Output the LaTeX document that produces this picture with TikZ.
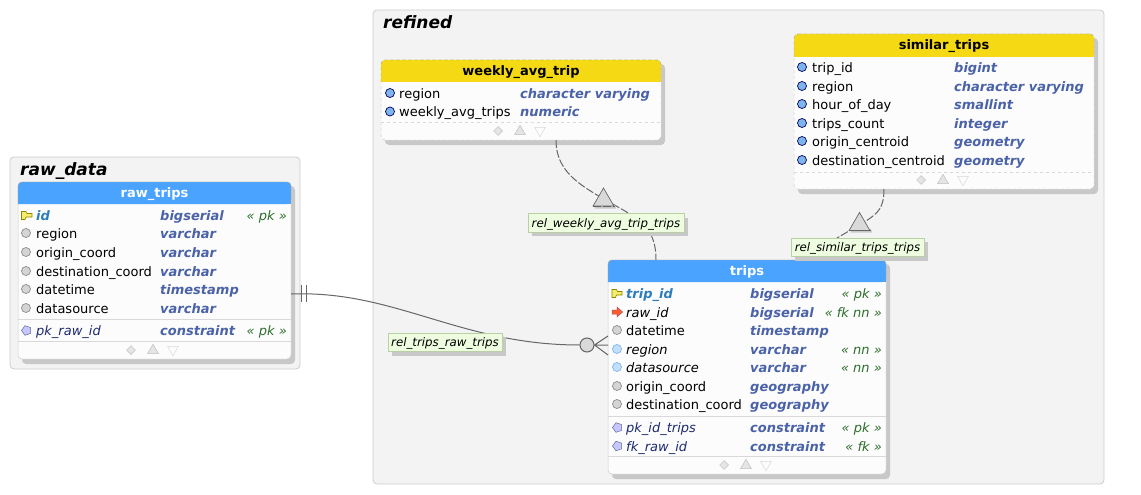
\documentclass[tikz,border=0pt]{standalone}
\usepackage{fontspec}
\setmainfont{DejaVu Sans}
\usetikzlibrary{fit,shapes.geometric}
\catcode`\_=12
\newcommand{\rowfont}{\fontsize{13}{15}\selectfont}
\definecolor{groupfill}{HTML}{F3F3F3}
\definecolor{groupline}{HTML}{CCCCCC}
\definecolor{shadowgray}{HTML}{C8C8C8}
\definecolor{tablefill}{HTML}{FCFCFC}
\definecolor{tablehead}{HTML}{4AA3FF}
\definecolor{viewhead}{HTML}{F5D914}
\definecolor{typeblue}{HTML}{4A62A8}
\definecolor{pkblue}{HTML}{2B7DBC}
\definecolor{consnavy}{HTML}{1C2B70}
\definecolor{taggreen}{HTML}{2E6E2E}
\definecolor{relfill}{HTML}{EEFCDF}
\definecolor{relline}{HTML}{B9CFA5}
\definecolor{linkgray}{HTML}{666666}
\definecolor{keyyellow}{HTML}{F4EC6A}
\definecolor{viewdot}{HTML}{7FB5EC}
\definecolor{nndot}{HTML}{C2DFFF}
\begin{document}
\begin{tikzpicture}[x=1pt,y=-1pt,
    font=\rowfont,
    group/.style={draw=groupline, fill=groupfill, rounded corners=4pt, line width=0.8pt},
    grouptitle/.style={anchor=base west, inner sep=0, font=\fontsize{17}{20}\selectfont\bfseries\itshape},
    tablebox/.style={fill=tablefill, draw=#1, rounded corners=4pt, inner sep=0, line width=0.5pt},
    title/.style={anchor=base, inner sep=0, font=\rowfont\bfseries},
    colname/.style={anchor=base west, inner sep=0},
    coltype/.style={anchor=base west, inner sep=0, text=typeblue, font=\rowfont\bfseries\itshape},
    coltag/.style={anchor=base east, inner sep=0, text=taggreen, font=\rowfont\itshape},
    dot/.style={circle, draw=#1, inner sep=0, minimum size=9pt, line width=0.7pt},
    plain/.style={dot=black!45, fill=black!17},
    viewcol/.style={dot=black!65!blue, fill=viewdot},
    nncol/.style={dot=viewdot, fill=nndot},
    cons/.style={regular polygon, regular polygon sides=5, shape border rotate=90, draw=consnavy!70, fill=blue!22,
        inner sep=0, minimum size=10pt, line width=0.5pt},
    marker/.style={inner sep=0, draw=black!25, fill=black!10, line width=0.5pt},
    updown/.style={marker, regular polygon, regular polygon sides=3, minimum size=12.5pt, shape border rotate=#1},
    reltri/.style={regular polygon, regular polygon sides=3, draw=black!60,
        fill=black!15, inner sep=0, minimum size=24pt, line width=0.7pt},
    rellabel/.style={draw=relline, fill=relfill, inner sep=0, text height=9pt, text depth=3pt, minimum height=18.5pt, anchor=center,
        font=\fontsize{11.8}{14}\selectfont\itshape, line width=0.7pt},
    relshadow/.style={fill=shadowgray},
    link/.style={draw=linkgray, line width=1pt},
    weak/.style={link, dash pattern=on 8pt off 2pt}]
\useasboundingbox (0,0) rectangle (1141,495);

% schemas
\node[group, fit={(10,157) (300,369)}, inner sep=0] (raw_data) {};
\node[grouptitle] (raw_data_title) at (20,175) {raw_data};
\node[group, fit={(373,10) (1104,484)}, inner sep=0] (refined) {};
\node[grouptitle] (refined_title) at (383,28.5) {refined};

% table frames
\foreach \name/\l/\t/\r/\b/\h/\col/\txt/\line in {
    raw_trips/18/182/291/359/204/tablehead/white/solid,
    trips/608/260/886/474/282/tablehead/white/solid,
    weekly_avg_trip/381/60/661/140/82/viewhead/black/dashed,
    similar_trips/794/34/1094/189/57/viewhead/black/dashed}{
    \fill[shadowgray, rounded corners=4pt] (\l+4,\t+4) rectangle (\r+4,\b+5);
    \node[tablebox=black!20, \line, fit={(\l,\t) (\r,\b)}] (\name) {};
    \fill[\col, rounded corners=4pt] (\l,\h) -- (\l,\t) -- (\r,\t) -- (\r,\h) [sharp corners] -- cycle;
    \fill[\col] (\l,\h-4) rectangle (\r,\h);
    \draw[black!35, \line, rounded corners=4pt] (\l,\h) -- (\l,\t) -- (\r,\t) -- (\r,\h);
    \node[title, text=\txt] (\name_title) at ({(\l+\r)/2},\t+15.5) {\name};
}

% separators
\foreach \name/\l/\r/\y in {raw_trips/18/291/319, raw_trips/18/291/341, trips/608/886/416, trips/608/886/456}
    \draw[black!15, line width=0.8pt] (\l,\y) -- (\r,\y);
\foreach \name/\l/\r/\y in {weekly_avg_trip/381/661/122, similar_trips/794/1094/172}
    \draw[black!15, dashed, line width=0.8pt] (\l,\y) -- (\r,\y);

% footers
\foreach \name/\x/\y in {raw_trips/131/350, weekly_avg_trip/498/131, similar_trips/921/180, trips/724/465}{
    \node[marker, diamond, minimum size=9pt] (\name_more) at (\x,\y) {};
    \node[updown=0] (\name_up) at (\x+22,\y+0.5) {};
    \node[updown=180, draw=black!15, fill=tablefill] (\name_down) at (\x+42,\y-0.5) {};
}

% raw_trips
\foreach \y/\n/\t in {233/region/varchar, 252/origin_coord/varchar, 271/destination_coord/varchar,
    289/datetime/timestamp, 308/datasource/varchar}{
    \node[plain] (raw_trips_\n_icon) at (26,\y) {};
    \node[colname] (raw_trips_\n) at (36,\y+5.3) {\n};
    \node[coltype] (raw_trips_\n_type) at (160,\y+5.3) {\t};
}
\filldraw[fill=keyyellow, draw=olive, line width=0.6pt] (21.5,211.5) -- (26,211.5) -- (27,213.5) -- (32,213.5) -- (32,217) -- (26,217) -- (25,219.5) -- (21.5,219.5) -- cycle;
\node[colname, text=pkblue, font=\rowfont\bfseries\itshape] (raw_trips_id) at (36,220.3) {id};
\node[coltype] (raw_trips_id_type) at (160,220.3) {bigserial};
\node[coltag] (raw_trips_id_tag) at (287,220.3) {« pk »};
\node[cons] (raw_trips_pk_icon) at (26.5,330.5) {};
\node[colname, text=consnavy, font=\rowfont\itshape] (raw_trips_pk) at (36,335.8) {pk_raw_id};
\node[coltype] (raw_trips_pk_type) at (160,335.8) {constraint};
\node[coltag] (raw_trips_pk_tag) at (287,335.8) {« pk »};

% weekly_avg_trip
\foreach \y/\n/\t in {93/region/character varying, 111.5/weekly_avg_trips/numeric}{
    \node[viewcol] (weekly_\n_icon) at (390,\y) {};
    \node[colname] (weekly_\n) at (399,\y+5.3) {\n};
    \node[coltype] (weekly_\n_type) at (520,\y+5.3) {\t};
}

% similar_trips
\foreach \y/\n/\t in {67/trip_id/bigint, 86/region/character varying, 104/hour_of_day/smallint,
    123/trips_count/integer, 141/origin_centroid/geometry, 160/destination_centroid/geometry}{
    \node[viewcol] (similar_\n_icon) at (802,\y) {};
    \node[colname] (similar_\n) at (812,\y+5.3) {\n};
    \node[coltype] (similar_\n_type) at (954,\y+5.3) {\t};
}

% trips
\filldraw[fill=keyyellow, draw=olive, line width=0.6pt] (612,289.5) -- (616.5,289.5) -- (617.5,291.5) -- (622,291.5) -- (622,295) -- (616.5,295) -- (615.5,297.5) -- (612,297.5) -- cycle;
\node[colname, text=pkblue, font=\rowfont\bfseries\itshape] (trips_trip_id) at (626,298.3) {trip_id};
\filldraw[fill=red!60!orange!80, draw=red!50!black!70, line width=0.5pt] (612,310) -- (617,310) -- (617,307) -- (622.5,312) -- (617,317) -- (617,314) -- (612,314) -- cycle;
\node[colname, font=\rowfont\itshape] (trips_raw_id) at (626,317.3) {raw_id};
\foreach \y/\n/\t/\s in {293/trip_id/bigserial/pk, 312/raw_id/bigserial/fk nn, 349/region/varchar/nn, 367/datasource/varchar/nn,
    427.5/pk_id_trips/constraint/pk, 446/fk_raw_id/constraint/fk}{
    \node[coltype] (trips_\n_type) at (750,\y+5.3) {\t};
    \node[coltag] (trips_\n_tag) at (882,\y+5.3) {« \s{} »};
}
\foreach \y/\n/\t in {330/datetime/timestamp, 386/origin_coord/geography, 404/destination_coord/geography}{
    \node[plain] (trips_\n_icon) at (617,\y) {};
    \node[colname] (trips_\n) at (626,\y+5.3) {\n};
    \node[coltype] (trips_\n_type) at (750,\y+5.3) {\t};
}
\foreach \y/\n in {349/region, 367/datasource}{
    \node[nncol] (trips_\n_icon) at (617,\y) {};
    \node[colname, font=\rowfont\itshape] (trips_\n) at (626,\y+5.3) {\n};
}
\foreach \y/\n in {427.5/pk_id_trips, 446/fk_raw_id}{
    \node[cons] (trips_\n_icon) at (617.5,\y) {};
    \node[colname, text=consnavy, font=\rowfont\itshape] (trips_\n) at (626,\y+5.3) {\n};
}

% relations
\coordinate (raw_out) at (291,294);
\coordinate (weekly_out) at (556,140);
\coordinate (weekly_in) at (656,260);
\coordinate (similar_out) at (884,189);
\coordinate (similar_in) at (830,260);
\coordinate (foot_a) at (608,336);
\coordinate (foot_b) at (608,345);
\coordinate (foot_c) at (608,355);
\node[circle, draw=linkgray, fill=black!15, minimum size=14pt, inner sep=0, line width=1pt] (raw_end) at (587,345) {};
\draw[link] (raw_out) .. controls (395,290) and (460,345) .. (raw_end);
\draw[link] (raw_end.east) -- (foot_a) (raw_end.east) -- (foot_b) (raw_end.east) -- (foot_c);
\draw[link] (301,285) -- (301,302) (306,285) -- (306,302);
\draw[weak] (weekly_out) .. controls (556,178) and (590,190) .. (630,214) .. controls (650,226) and (656,240) .. (weekly_in);
\draw[weak] (similar_out) .. controls (884,208) and (878,213) .. (866,221) -- (837,238) .. controls (832,243) and (830,250) .. (similar_in);
\fill[shadowgray] (594,205) -- (615,205) -- (616,208.5) -- (595,208.5) -- cycle;
\fill[shadowgray] (850,229) -- (871,229) -- (872,232.5) -- (851,232.5) -- cycle;
\node[reltri] (weekly_tri) at (603.5,200) {};
\node[reltri] (similar_tri) at (859.5,224.5) {};
\draw[weak] (weekly_tri.corner 2) -- (weekly_tri.corner 3);
\draw[weak] (similar_tri.corner 2) -- (similar_tri.corner 3);
\fill[relshadow] (392,337) rectangle (506,356);
\node[rellabel, minimum width=114pt] (rel_trips_raw_trips) at (445,342.5) {\raisebox{-1pt}{rel_trips_raw_trips}};
\fill[relshadow] (532,218) rectangle (688,236);
\node[rellabel, minimum width=156pt] (rel_weekly_avg_trip_trips) at (606,223) {\raisebox{-1pt}{rel_weekly_avg_trip_trips}};
\fill[relshadow] (795,242) rectangle (928,261);
\node[rellabel, minimum width=133pt] (rel_similar_trips_trips) at (857.5,247.5) {\raisebox{-1pt}{rel_similar_trips_trips}};
\end{tikzpicture}
\end{document}
